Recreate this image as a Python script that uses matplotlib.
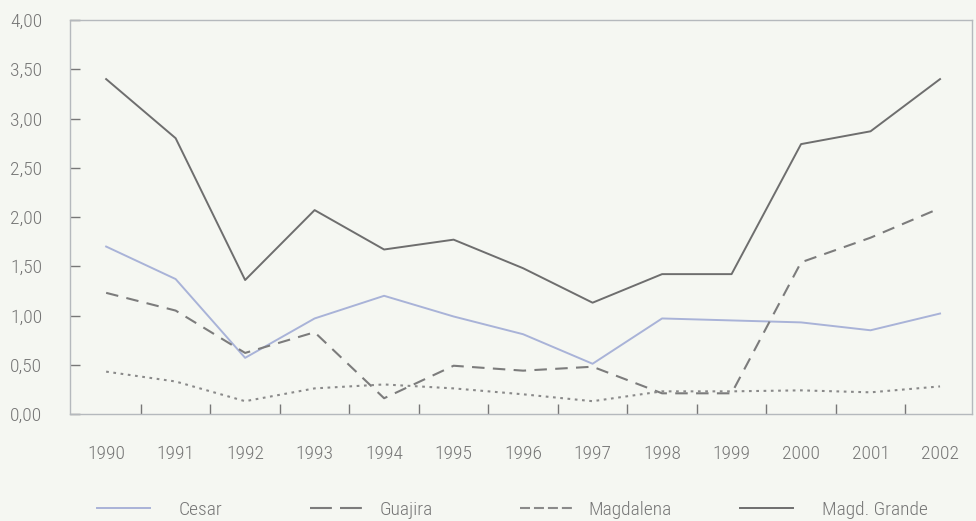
import matplotlib
matplotlib.use("Agg")
import matplotlib.pyplot as plt
from matplotlib.ticker import FuncFormatter, FixedLocator
from matplotlib.lines import Line2D

years = [1990, 1991, 1992, 1993, 1994, 1995, 1996, 1997, 1998, 1999, 2000, 2001, 2002]
cesar = [1.70, 1.37, 0.57, 0.97, 1.20, 0.99, 0.81, 0.51, 0.97, 0.95, 0.93, 0.85, 1.02]
guajira = [1.23, 1.05, 0.62, 0.83, 0.16, 0.49, 0.44, 0.48, 0.21, 0.21, 1.54, 1.79, 2.09]
magdalena = [0.43, 0.33, 0.13, 0.26, 0.30, 0.26, 0.20, 0.13, 0.23, 0.23, 0.24, 0.22, 0.28]
magd_grande = [3.40, 2.80, 1.36, 2.07, 1.67, 1.77, 1.48, 1.13, 1.42, 1.42, 2.74, 2.87, 3.40]
labels = ["Cesar", "Guajira", "Magdalena", "Magd. Grande"]
yticks = [0, 0.5, 1.0, 1.5, 2.0, 2.5, 3.0, 3.5, 4.0]

plt.rcParams['font.family'] = ["Roboto Condensed", "DejaVu Sans"]
plt.rcParams['font.weight'] = 'light'

bg = "#f5f7f2"
txt = "#767676"
fs = 14
fig = plt.figure(figsize=(9.76, 5.21), dpi=100, facecolor=bg)
ax = fig.add_axes([70/976, 1-414/521, 902/976, 394/521], facecolor=bg)

styles = [
    dict(color="#a9b3d8", lw=1.4),
    dict(color="#7c7c7c", lw=1.5, dashes=(6, 4)),
    dict(color="#8a8a8a", lw=1.5, dashes=(1.3, 2.2)),
    dict(color="#6e6e6e", lw=1.4),
]
legend_dashes = [None, (10.5, 3.9), (4.8, 1.9), None]
for vals, st, lab in zip([cesar, guajira, magdalena, magd_grande], styles, labels):
    ax.plot(years, vals, label=lab, **st)

ax.set_xlim(1989.48, 2002.46)
ax.set_ylim(0, 4)
for s in ax.spines.values():
    s.set_color("#b5b9bd")
    s.set_linewidth(1.0)

ax.set_xticks(years)
ax.set_xticklabels([str(y) for y in years])
ax.xaxis.set_minor_locator(FixedLocator([y + 0.5 for y in years[:-1]]))
ax.tick_params(axis='x', which='major', length=0, pad=22, labelsize=fs, labelcolor=txt)
ax.tick_params(axis='x', which='minor', direction='in', length=7, width=1, color="#777777")
ax.set_yticks(yticks)
ax.yaxis.set_major_formatter(FuncFormatter(lambda v, p: f"{v:.2f}".replace(".", ",")))
ax.tick_params(axis='y', direction='in', length=7, width=1, color="#777777", pad=20,
               labelsize=fs, labelcolor=txt)

# legend entries placed individually
x_starts = [97, 310, 520, 740]
pads = [1.5, 0.9, 0.8, 1.5]
yl = 1 - 510/521
for lab, st, ld, x0, pd in zip(labels, styles, legend_dashes, x_starts, pads):
    hs = dict(st)
    if ld is not None:
        hs['dashes'] = ld
    h = Line2D([], [], **hs)
    leg = fig.legend([h], [lab], loc='center left', bbox_to_anchor=(x0/976, yl),
                     frameon=False, borderpad=0, borderaxespad=0, handlelength=2.7,
                     handletextpad=pd, fontsize=fs)
    for t in leg.get_texts():
        t.set_color(txt)

fig.savefig("out.png", dpi=100, facecolor=bg)
